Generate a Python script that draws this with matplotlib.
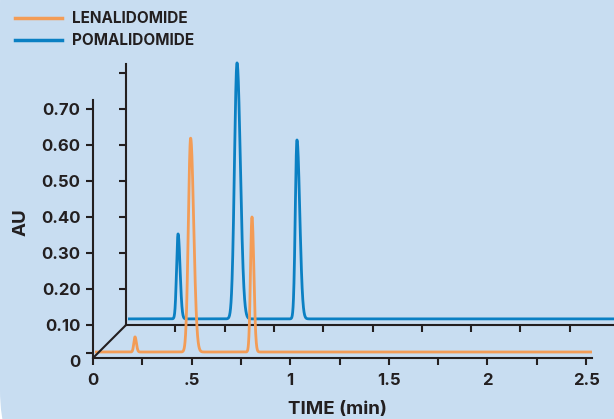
import numpy as np
import matplotlib
matplotlib.use("Agg")
import matplotlib.pyplot as plt
from matplotlib.patches import FancyBboxPatch, ConnectionPatch
from matplotlib.lines import Line2D
import matplotlib.transforms as mtransforms

plt.rcParams['font.family'] = ['Inter', 'DejaVu Sans']
plt.rcParams['font.weight'] = 'bold'

# ---------------- data ----------------
series_names = ["LENALIDOMIDE", "POMALIDOMIDE"]
# Lenalidomide trace (front plane)
len_baseline = 0.025
len_peak_time = [0.213, 0.495, 0.806]          # min
len_peak_apex = [0.067, 0.619, 0.400]          # AU
len_peak_wl = [0.006, 0.0115, 0.0075]          # left width (min)
len_peak_wr = [0.007, 0.0155, 0.0095]          # right width (min)
len_time_range = [0.01, 2.53]
# Pomalidomide trace (back plane)
pom_baseline = 0.117
pom_peak_time = [0.264, 0.563, 0.867]
pom_peak_apex = [0.353, 0.828, 0.614]
pom_peak_wl = [0.0075, 0.0130, 0.0085]
pom_peak_wr = [0.0100, 0.0170, 0.0140]
pom_time_range = [0.01, 2.50]

x_major = [0, 0.5, 1, 1.5, 2, 2.5]
x_major_labels = ["0", ".5", "1", "1.5", "2", "2.5"]
x_minor = [0.25, 0.75, 1.25, 1.75, 2.25]
back_x_ticks = [0.25, 0.5, 0.75, 1.0, 1.25, 1.5, 1.75, 2.0, 2.25]
y_ticks = [0.10, 0.20, 0.30, 0.40, 0.50, 0.60, 0.70]
y_tick_labels = ["0.10", "0.20", "0.30", "0.40", "0.50", "0.60", "0.70"]
y_zero_tick = 0.022
back_y_ticks = [0.2, 0.3, 0.4, 0.5, 0.6, 0.7, 0.8]

ORANGE = "#f39c56"
BLUE = "#0b80c3"
DARK = "#231f20"
BG = "#c8ddf1"


def trace(trange, baseline, times, apex, wl, wr):
    t = np.linspace(trange[0], trange[1], 6000)
    y = np.full_like(t, baseline)
    for t0, a, sl, sr in zip(times, apex, wl, wr):
        s = np.where(t < t0, sl, sr)
        y += (a - baseline) * np.exp(-0.5 * ((t - t0) / s) ** 2)
    return t, y


W, H = 614, 419
fig = plt.figure(figsize=(W / 100, H / 100), dpi=100)
fig.patch.set_facecolor("white")

bg = FancyBboxPatch((0, -0.78), 8, 6, boxstyle="round,pad=0,rounding_size=1.07",
                    transform=fig.dpi_scale_trans, facecolor=BG, edgecolor="none",
                    zorder=-5)
fig.add_artist(bg)

# back axes (pomalidomide)
axb = fig.add_axes([126 / W, (H - 325) / H, (W - 126) / W, (325 - 64) / H])
axb.patch.set_alpha(0)
axb.set_xlim(0, (W - 126) / 197.2)
axb.set_ylim(0.1, 0.825)
for s in ["top", "right"]:
    axb.spines[s].set_visible(False)
for s in ["left", "bottom"]:
    axb.spines[s].set_linewidth(1.5)
    axb.spines[s].set_color(DARK)
axb.set_xticks(back_x_ticks)
axb.set_xticklabels([])
axb.set_yticks(back_y_ticks)
axb.set_yticklabels([])
axb.tick_params(length=5, width=1.5, color=DARK, direction="out")
tb, yb = trace(pom_time_range, pom_baseline, pom_peak_time, pom_peak_apex,
               pom_peak_wl, pom_peak_wr)
axb.plot(tb, yb, color=BLUE, lw=2.0, clip_on=False, solid_capstyle="butt")

# front axes (lenalidomide)
axf = fig.add_axes([93 / W, (H - 358) / H, (592 - 93) / W, (358 - 100) / H])
axf.patch.set_alpha(0)
axf.set_xlim(0, 2.53)
axf.set_ylim((361 - 358) / 360, (361 - 100) / 360)
for s in ["top", "right"]:
    axf.spines[s].set_visible(False)
for s in ["left", "bottom"]:
    axf.spines[s].set_linewidth(1.5)
    axf.spines[s].set_color(DARK)
axf.set_xticks(x_major)
axf.set_xticklabels(x_major_labels)
axf.set_xticks(x_minor, minor=True)
axf.set_yticks([y_zero_tick] + y_ticks)
axf.set_yticklabels([""] + y_tick_labels)
axf.tick_params(which="both", length=5, width=1.5, color=DARK, direction="out",
                labelsize=12, labelcolor=DARK)
axf.tick_params(axis="x", pad=6)
axf.tick_params(axis="y", pad=4)
for lab in axf.get_xticklabels() + axf.get_yticklabels():
    lab.set_fontweight("bold")
axf.text(-0.026, -0.004, "0", transform=mtransforms.blended_transform_factory(
    axf.transAxes, axf.transData), ha="right", va="center", fontsize=12,
    fontweight="bold", color=DARK)

tf, yf = trace(len_time_range, len_baseline, len_peak_time, len_peak_apex,
               len_peak_wl, len_peak_wr)
axf.plot(tf, yf, color=ORANGE, lw=2.0, clip_on=False, solid_capstyle="butt")

axf.set_xlabel("TIME (min)", fontsize=13.5, fontweight="bold", color=DARK)
axf.xaxis.set_label_coords((337 - 93) / (592 - 93), ((H - 401) - (H - 358)) / (358 - 100))
axf.xaxis.label.set_va("top")
axf.set_ylabel("AU", fontsize=13.5, fontweight="bold", color=DARK)
axf.yaxis.set_label_coords((30 - 93) / (592 - 93), ((H - 222) - (H - 358)) / (358 - 100))

# depth connector between the two planes
con = ConnectionPatch(xyA=(0, axf.get_ylim()[0]), coordsA=axf.transData,
                      xyB=(0, 0.1), coordsB=axb.transData,
                      color=DARK, lw=1.5)
fig.add_artist(con)

handles = [Line2D([], [], color=ORANGE, lw=2.5), Line2D([], [], color=BLUE, lw=2.5)]
leg = fig.legend(handles, series_names, loc="upper left",
                 bbox_to_anchor=(15 / W, 1 - 11 / H), frameon=False,
                 prop={"size": 11, "weight": "bold"}, handlelength=3.1,
                 handletextpad=0.6, labelspacing=0.45, borderpad=0,
                 borderaxespad=0)
for t in leg.get_texts():
    t.set_color(DARK)

fig.savefig("out.png", dpi=100)
